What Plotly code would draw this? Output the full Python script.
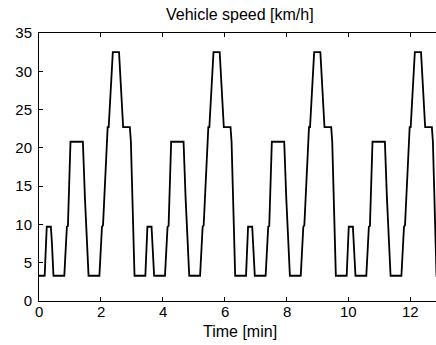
import plotly.graph_objects as go

# Time breakpoints [s] and vehicle speed [km/h] (4 urban cycles)
time_s = [
    0, 11, 15, 23, 25, 28, 49, 54, 56, 61, 85, 89, 96, 117, 122, 124, 133, 135, 143, 155, 163, 176, 178, 182, 185,
    206, 210, 218, 220, 223, 244, 249, 251, 256, 280, 284, 291, 312, 317, 319, 328, 330, 338, 350, 358, 371, 373, 377, 380,
    401, 405, 413, 415, 418, 439, 444, 446, 451, 475, 479, 486, 507, 512, 514, 523, 525, 533, 545, 553, 566, 568, 572, 575,
    596, 600, 608, 610, 613, 634, 639, 641, 646, 670, 674, 681, 702, 707, 709, 718, 720, 728, 740, 748, 761, 763, 767, 770, 780,
]
speed_kmh = [
    3.3, 3.3, 9.7, 9.7, 7.6, 3.3, 3.3, 9.7, 9.8, 20.8, 20.8, 13.4, 3.3, 3.3, 9.7, 9.9, 22.7, 22.7, 32.5, 32.5, 22.7, 22.7, 20.8, 10.5, 3.3,
    3.3, 9.7, 9.7, 7.6, 3.3, 3.3, 9.7, 9.8, 20.8, 20.8, 13.4, 3.3, 3.3, 9.7, 9.9, 22.7, 22.7, 32.5, 32.5, 22.7, 22.7, 20.8, 10.5, 3.3,
    3.3, 9.7, 9.7, 7.6, 3.3, 3.3, 9.7, 9.8, 20.8, 20.8, 13.4, 3.3, 3.3, 9.7, 9.9, 22.7, 22.7, 32.5, 32.5, 22.7, 22.7, 20.8, 10.5, 3.3,
    3.3, 9.7, 9.7, 7.6, 3.3, 3.3, 9.7, 9.8, 20.8, 20.8, 13.4, 3.3, 3.3, 9.7, 9.9, 22.7, 22.7, 32.5, 32.5, 22.7, 22.7, 20.8, 10.5, 3.3, 3.3,
]
x_ticks = [0, 2, 4, 6, 8, 10, 12]
y_ticks = [0, 5, 10, 15, 20, 25, 30, 35]

time_min = [t / 60.0 for t in time_s]

W, H = 436, 345
L, T, B = 39, 33, 44
FONT = "Liberation Sans, Arial, sans-serif"

fig = go.Figure()
fig.add_trace(go.Scatter(
    x=time_min, y=speed_kmh, mode="lines",
    line=dict(color="black", width=1.8),
    showlegend=False, hoverinfo="skip",
))

plot_w = W - L
plot_h = H - T - B
fig.update_layout(
    width=W, height=H,
    margin=dict(l=L, r=0, t=T, b=B, pad=0),
    paper_bgcolor="white", plot_bgcolor="white",
    font=dict(family=FONT, size=15, color="black"),
    xaxis=dict(
        range=[0, plot_w / 30.975], tickvals=x_ticks, ticktext=[str(v) for v in x_ticks],
        ticks="inside", ticklen=4, tickwidth=1, tickcolor="black",
        showline=True, linecolor="black", linewidth=1, mirror="ticks",
        showgrid=False, zeroline=False, showticklabels=False,
    ),
    yaxis=dict(
        range=[0, 35], tickvals=y_ticks, ticktext=[str(v) for v in y_ticks],
        ticks="inside", ticklen=4, tickwidth=1, tickcolor="black",
        showline=True, linecolor="black", linewidth=1, mirror=False,
        showgrid=False, zeroline=False, ticklabelstandoff=3,
    ),
)

annotations = [
    dict(text="Vehicle speed [km/h]", xref="paper", yref="paper",
         x=(240 - L) / plot_w, y=1 + (T - 14.5) / plot_h,
         xanchor="center", yanchor="middle", showarrow=False,
         font=dict(family=FONT, size=16, color="black")),
    dict(text="Time [min]", xref="paper", yref="paper",
         x=(240 - L) / plot_w, y=-(331.5 - (H - B)) / plot_h,
         xanchor="center", yanchor="middle", showarrow=False,
         font=dict(family=FONT, size=16, color="black")),
]
# x tick labels placed at their data positions
for v in x_ticks:
    annotations.append(dict(
        text=str(v), xref="x", yref="paper", x=v, y=-(311.5 - (H - B)) / plot_h,
        xanchor="center", yanchor="middle", showarrow=False,
        font=dict(family=FONT, size=15, color="black")))
fig.update_layout(annotations=annotations)

fig.write_html("out.html")
